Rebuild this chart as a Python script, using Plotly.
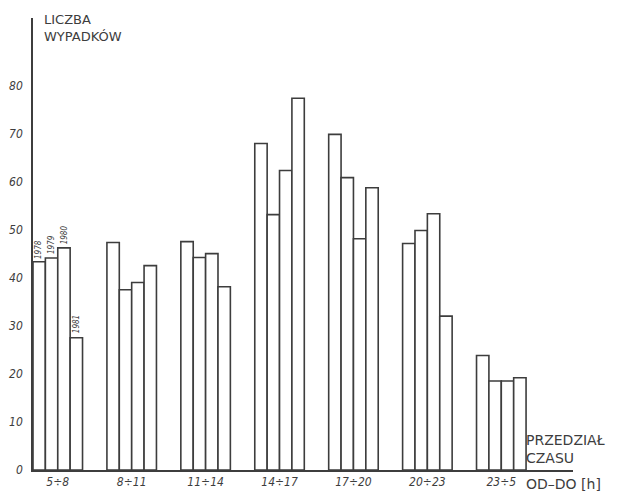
import plotly.graph_objects as go

categories = ["5÷8", "8÷11", "11÷14", "14÷17", "17÷20", "20÷23", "23÷5"]
years = ["1978", "1979", "1980", "1981"]
v1978 = [43.3, 47.3, 47.5, 67.9, 69.8, 47.1, 23.8]
v1979 = [44.1, 37.5, 44.2, 53.1, 60.8, 49.8, 18.5]
v1980 = [46.2, 39.0, 45.0, 62.3, 48.1, 53.3, 18.5]
v1981 = [27.5, 42.5, 38.1, 77.3, 58.7, 32.0, 19.2]
series = [v1978, v1979, v1980, v1981]
y_ticks = [0, 10, 20, 30, 40, 50, 60, 70, 80]

INK = "#3d3d3d"
FONT = "DejaVu Sans Condensed, DejaVu Sans, sans-serif"
xs = list(range(len(categories)))

fig = go.Figure()
for name, vals in zip(years, series):
    fig.add_trace(go.Bar(
        x=xs, y=vals, name=name,
        marker=dict(color="white", line=dict(color=INK, width=1.6)),
        showlegend=False, hoverinfo="x+y+name",
    ))

# year labels over the first group (rotated, as in the original)
bw = 0.67 / 4
label_y = [45.8, 46.9, 49.0, 30.4]
for i, (yr, ly) in enumerate(zip(years, label_y)):
    fig.add_annotation(
        x=xs[0] + (-1.5 + i) * bw, y=ly, xref="x", yref="y",
        text=yr, textangle=-90, showarrow=False,
        font=dict(family=FONT, size=8, color=INK, style="italic"),
    )

# page body adds an 8px offset, so the figure is 8px smaller on each axis
fig.update_layout(
    width=632, height=488,
    margin=dict(l=25, r=67, t=10, b=26, autoexpand=False),
    paper_bgcolor="white", plot_bgcolor="white",
    barmode="group", bargap=0.33, bargroupgap=0,
    font=dict(family=FONT, color=INK),
)
fig.update_xaxes(
    range=[-0.335, 6.97], tickvals=xs, ticktext=categories,
    showline=True, linecolor=INK, linewidth=1.6, ticks="",
    showgrid=False, zeroline=False, automargin=False,
    tickfont=dict(family=FONT, size=12, color=INK, style="italic"),
)
fig.update_yaxes(
    range=[0, 94], tickvals=y_ticks, ticktext=[str(t) for t in y_ticks],
    showline=True, linecolor=INK, linewidth=1.6, ticks="",
    showgrid=False, zeroline=False, ticklabelstandoff=6, automargin=False,
    tickfont=dict(family=FONT, size=12, color=INK, style="italic"),
)

def ann(text, x, y, size, yanchor="middle"):
    fig.add_annotation(
        x=x, y=y, xref="paper", yref="paper", text=text, showarrow=False,
        xanchor="left", yanchor=yanchor, align="left",
        font=dict(family="DejaVu Sans, sans-serif", size=size, color=INK),
    )

ann("LICZBA<br>WYPADKÓW", 0.0167, 1.018, 13, "top")
ann("PRZEDZIAŁ<br>CZASU", 0.909, 0.046, 14)
ann("OD–DO [h]", 0.909, -0.031, 14)

fig.write_html("out.html")
